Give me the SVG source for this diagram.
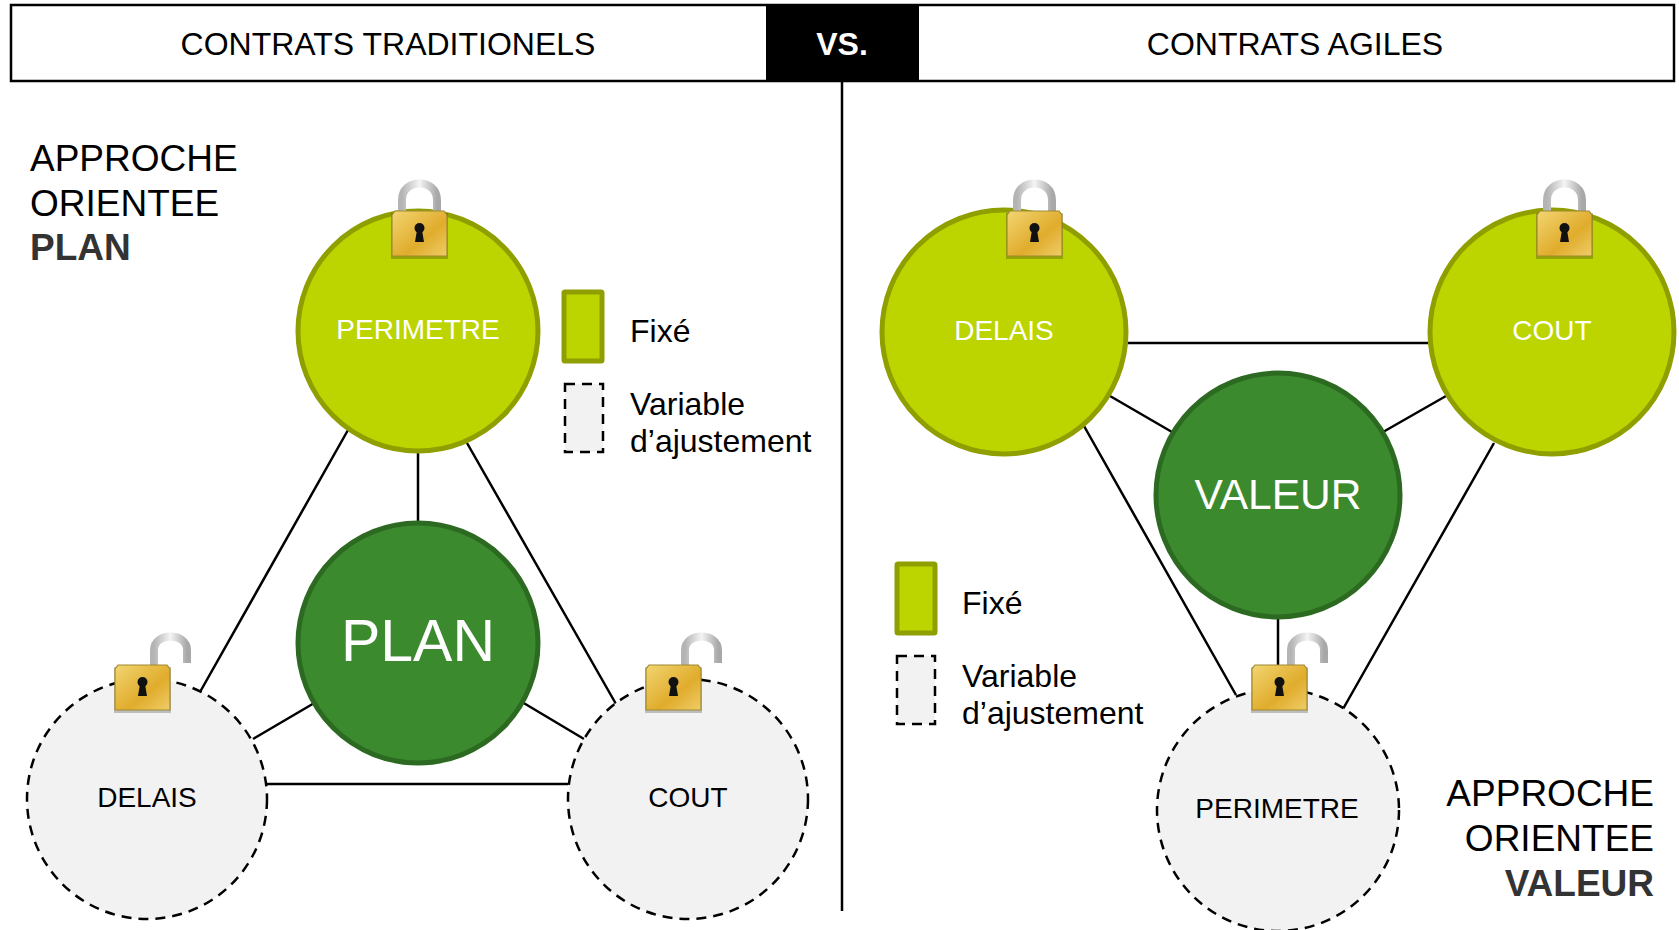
<svg xmlns="http://www.w3.org/2000/svg" width="1679" height="930" viewBox="0 0 1679 930">
<style>
text{font-family:"Liberation Sans",Arial,sans-serif;fill:#000}
.m{text-anchor:middle}
.e{text-anchor:end}
.fix{fill:#bcd400;stroke:#8f9f00;stroke-width:5}
.var{fill:#f2f2f2;stroke:#000;stroke-width:2.500;stroke-dasharray:10 7}
.core{fill:#3c8a2e;stroke:#2c6a22;stroke-width:5}
.c{fill:none;stroke:#000;stroke-width:2.500}
.n{font-size:28px}
.l{font-size:32px}
.a{font-size:37px}
.h{font-size:32px}
.b{font-weight:bold;fill:#333}
</style>
<defs>
<linearGradient id="body" x1="0" y1="0" x2="1" y2="1"><stop offset="0" stop-color="#f2d572"/><stop offset=".6" stop-color="#e0ac2c"/><stop offset="1" stop-color="#efcd68"/></linearGradient>
<linearGradient id="sh" x1="0" y1="0" x2="1" y2="0"><stop offset="0" stop-color="#b4b4b4"/><stop offset=".5" stop-color="#f4f4f4"/><stop offset="1" stop-color="#a8a8a8"/></linearGradient>
<g id="lockbody">
<rect x="-1" y="2" width="57" height="46" fill="#000" opacity=".22"/>
<path d="M3 0H52L55 4V45H0V4Z" fill="url(#body)" stroke="#a08a30" stroke-width="1.200"/>
<circle cx="27.500" cy="17" r="5" fill="#111"/>
<path d="M25 19H30L32 31H23Z" fill="#111"/>
</g>
<g id="lockclosed">
<path d="M12 34V20C12 -2 47 -2 47 20V34" fill="none" stroke="url(#sh)" stroke-width="8"/>
<use href="#lockbody" x="2" y="31"/>
</g>
<g id="lockopen">
<path d="M39 33V16C39 -2 72 -2 72 16V29" fill="none" stroke="url(#sh)" stroke-width="8"/>
<use href="#lockbody" x="0" y="31"/>
</g>
</defs>
<rect width="1679" height="930" fill="#fff"/>
<g id="header">
<rect x="11" y="5" width="1663" height="76" fill="#fff" stroke="#000" stroke-width="2.500"/>
<rect x="766" y="4" width="153" height="78" fill="#000"/>
<text class="h m" x="388" y="54.500">CONTRATS TRADITIONELS</text>
<text class="m" x="842" y="55" font-size="32" font-weight="bold" style="fill:#fff">VS.</text>
<text class="h m" x="1295" y="54.500">CONTRATS AGILES</text>
</g>
<g id="connectors">
<path class="c" d="M842 81V911"/>
<path class="c" d="M418 450V524M348 430L200 692M467 443L616 704M253 739L316 702M584 739L522 702M267 784H568"/>
<path class="c" d="M1128 343H1430M1110 396L1172 432M1446 396L1383 432M1084 426L1236 695M1494 443L1343 709M1278 618V690"/>
</g>
<g id="approche-plan">
<text class="a" x="30" y="171">APPROCHE</text>
<text class="a" x="30" y="216">ORIENTEE</text>
<text class="a b" x="30" y="260">PLAN</text>
</g>
<g id="approche-valeur">
<text class="a e" x="1654" y="806">APPROCHE</text>
<text class="a e" x="1654" y="851">ORIENTEE</text>
<text class="a b e" x="1654" y="896">VALEUR</text>
</g>
<g id="node-perimetre-left">
<circle class="fix" cx="418" cy="331" r="120"/>
<text class="n m" style="fill:#fff" x="418" y="339">PERIMETRE</text>
<use href="#lockclosed" x="390" y="180"/>
</g>
<g id="node-plan">
<circle class="core" cx="418" cy="643" r="120"/>
<text class="m" style="fill:#fff" x="418" y="661" font-size="59">PLAN</text>
</g>
<g id="node-delais-left">
<circle class="var" cx="147" cy="799" r="120"/>
<text class="n m" x="147" y="807">DELAIS</text>
<use href="#lockopen" x="115" y="634"/>
</g>
<g id="node-cout-left">
<circle class="var" cx="688" cy="799" r="120"/>
<text class="n m" x="688" y="807">COUT</text>
<use href="#lockopen" x="646" y="634"/>
</g>
<g id="legend-left">
<rect class="fix" x="564" y="292" width="38" height="69" rx="1"/>
<text class="l" x="630" y="342">Fixé</text>
<rect class="var" x="565" y="384" width="38" height="68"/>
<text class="l" x="630" y="414.500">Variable</text>
<text class="l" x="630" y="452">d’ajustement</text>
</g>
<g id="node-delais-right">
<circle class="fix" cx="1004" cy="332" r="122"/>
<text class="n m" style="fill:#fff" x="1004" y="340">DELAIS</text>
<use href="#lockclosed" x="1005" y="180"/>
</g>
<g id="node-cout-right">
<circle class="fix" cx="1552" cy="332" r="122"/>
<text class="n m" style="fill:#fff" x="1552" y="340">COUT</text>
<use href="#lockclosed" x="1535" y="180"/>
</g>
<g id="node-valeur">
<circle class="core" cx="1278" cy="495" r="122"/>
<text class="m" style="fill:#fff" x="1278" y="509" font-size="42.500">VALEUR</text>
</g>
<g id="node-perimetre-right">
<circle class="var" cx="1278" cy="810" r="121"/>
<text class="n m" x="1277" y="818">PERIMETRE</text>
<use href="#lockopen" x="1252" y="634"/>
</g>
<g id="legend-right">
<rect class="fix" x="897" y="564" width="38" height="69" rx="1"/>
<text class="l" x="962" y="614">Fixé</text>
<rect class="var" x="897" y="656" width="38" height="68"/>
<text class="l" x="962" y="686.500">Variable</text>
<text class="l" x="962" y="724">d’ajustement</text>
</g>
</svg>
